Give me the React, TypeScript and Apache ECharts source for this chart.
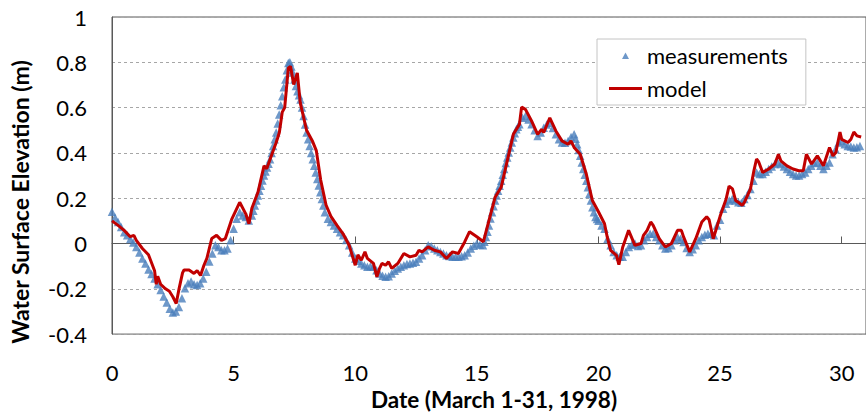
import React, { useEffect, useRef } from "react";
import * as echarts from "echarts";

// Day of March 1998 (0 = start of March 1) for the measured water level
const measDay = [
  0, 0.125, 0.25, 0.375, 0.5, 0.625, 0.75, 0.875, 1, 1.125, 1.25, 1.375, 1.5, 1.625, 1.75, 1.875,
  2, 2.125, 2.25, 2.375, 2.5, 2.625, 2.75, 2.875, 3, 3.125, 3.25, 3.375, 3.5, 3.625, 3.75, 3.875,
  4, 4.125, 4.25, 4.375, 4.5, 4.625, 4.75, 4.875, 5, 5.125, 5.25, 5.375, 5.5, 5.625, 5.75, 5.8125, 5.875, 5.9375,
  6, 6.0625, 6.125, 6.1875, 6.25, 6.3125, 6.375, 6.4375, 6.5, 6.5625, 6.625, 6.6875, 6.75, 6.8125, 6.875, 6.9375,
  7, 7.0625, 7.125, 7.1875, 7.25, 7.3125, 7.375, 7.4375, 7.5, 7.5625, 7.625, 7.6875, 7.75, 7.8125, 7.875, 7.9375,
  8, 8.0625, 8.125, 8.1875, 8.25, 8.3125, 8.375, 8.4375, 8.5, 8.5625, 8.625, 8.6875, 8.75, 8.875,
  9, 9.125, 9.25, 9.375, 9.5, 9.625, 9.75, 9.875,
  10, 10.125, 10.25, 10.375, 10.5, 10.625, 10.75, 10.875, 11, 11.125, 11.25, 11.375, 11.5, 11.625, 11.75, 11.875,
  12, 12.125, 12.25, 12.375, 12.5, 12.625, 12.75, 12.875, 13, 13.125, 13.25, 13.375, 13.5, 13.625, 13.75, 13.875,
  14, 14.125, 14.25, 14.375, 14.5, 14.625, 14.75, 14.875, 15, 15.125, 15.25, 15.3125, 15.375, 15.4375,
  15.5, 15.5625, 15.625, 15.6875, 15.75, 15.8125, 15.875, 15.9375, 16, 16.0625, 16.125, 16.1875, 16.25, 16.3125,
  16.375, 16.4375, 16.5, 16.5625, 16.625, 16.6875, 16.75, 16.875, 17, 17.125, 17.25, 17.375, 17.5, 17.625,
  17.75, 17.875, 18, 18.125, 18.25, 18.375, 18.5, 18.625, 18.75, 18.875, 19, 19.0625, 19.125, 19.1875,
  19.25, 19.3125, 19.375, 19.4375, 19.5, 19.5625, 19.625, 19.6875, 19.75, 19.8125, 19.875, 19.9375,
  20, 20.125, 20.25, 20.375, 20.5, 20.625, 20.75, 20.875, 21, 21.125, 21.25, 21.375, 21.5, 21.625, 21.75, 21.875,
  22, 22.125, 22.25, 22.375, 22.5, 22.625, 22.75, 22.875, 23, 23.125, 23.25, 23.375, 23.5, 23.625, 23.75, 23.875,
  24, 24.125, 24.25, 24.375, 24.5, 24.625, 24.75, 24.875, 25, 25.125, 25.25, 25.375, 25.5, 25.625, 25.75, 25.875,
  26, 26.125, 26.25, 26.375, 26.5, 26.625, 26.75, 26.875, 27, 27.125, 27.25, 27.375, 27.5, 27.625, 27.75, 27.875,
  28, 28.125, 28.25, 28.375, 28.5, 28.625, 28.75, 28.875, 29, 29.125, 29.25, 29.375, 29.5, 29.625, 29.75, 29.875,
  30, 30.125, 30.25, 30.375, 30.5, 30.625, 30.75,
];
// Measured water surface elevation (m)
const measElev = [
  0.14, 0.115, 0.095, 0.073, 0.05, 0.036, 0.02, 0.004, -0.015, -0.04, -0.066, -0.088, -0.115, -0.135, -0.155, -0.18,
  -0.205, -0.234, -0.26, -0.288, -0.305, -0.3, -0.28, -0.242, -0.198, -0.176, -0.168, -0.18, -0.183, -0.176, -0.154, -0.125,
  -0.08, -0.044, -0.008, -0.015, -0.03, -0.03, -0.022, 0.014, 0.065, 0.109, 0.138, 0.124, 0.117, 0.102, 0.124, 0.145, 0.168, 0.19,
  0.212, 0.233, 0.255, 0.278, 0.3, 0.318, 0.336, 0.352, 0.372, 0.4, 0.431, 0.46, 0.49, 0.53, 0.57, 0.61,
  0.65, 0.69, 0.724, 0.765, 0.797, 0.8, 0.782, 0.755, 0.724, 0.695, 0.672, 0.655, 0.636, 0.6, 0.563, 0.525,
  0.49, 0.46, 0.431, 0.4, 0.372, 0.343, 0.314, 0.285, 0.256, 0.226, 0.197, 0.168, 0.138, 0.109,
  0.095, 0.08, 0.065, 0.05, 0.036, 0.015, -0.008, -0.04,
  -0.066, -0.076, -0.088, -0.096, -0.103, -0.1, -0.103, -0.118, -0.132, -0.142, -0.147, -0.145, -0.132, -0.12, -0.11, -0.103,
  -0.096, -0.091, -0.088, -0.085, -0.081, -0.066, -0.052, -0.03, -0.008, -0.012, -0.022, -0.03, -0.037, -0.044, -0.052, -0.055,
  -0.059, -0.059, -0.059, -0.056, -0.052, -0.04, -0.022, -0.01, 0, -0.005, -0.008, 0.008, 0.029, 0.052,
  0.08, 0.11, 0.138, 0.165, 0.19, 0.212, 0.233, 0.255, 0.277, 0.303, 0.329, 0.355, 0.38, 0.402,
  0.424, 0.446, 0.468, 0.487, 0.504, 0.516, 0.526, 0.555, 0.563, 0.548, 0.526, 0.5, 0.475, 0.49,
  0.511, 0.525, 0.533, 0.51, 0.482, 0.46, 0.446, 0.445, 0.453, 0.47, 0.482, 0.462, 0.438, 0.413,
  0.387, 0.358, 0.329, 0.303, 0.277, 0.248, 0.219, 0.19, 0.16, 0.138, 0.117, 0.108,
  0.1, 0.08, 0.065, 0.021, -0.008, -0.037, -0.052, -0.059, -0.059, -0.037, -0.015, -0.005, 0, -0.011, -0.008, 0.014,
  0.029, 0.043, 0.043, 0.029, 0.014, -0.008, -0.022, -0.02, -0.008, 0.014, 0.029, 0.021, 0.007, -0.02, -0.037, -0.025,
  -0.008, 0.014, 0.029, 0.039, 0.043, 0.043, 0.036, 0.08, 0.105, 0.153, 0.175, 0.19, 0.197, 0.19, 0.182, 0.18,
  0.197, 0.214, 0.241, 0.277, 0.314, 0.307, 0.307, 0.317, 0.329, 0.34, 0.351, 0.358, 0.351, 0.34, 0.329, 0.317,
  0.307, 0.3, 0.3, 0.307, 0.314, 0.329, 0.343, 0.355, 0.358, 0.343, 0.329, 0.343, 0.358, 0.394, 0.416, 0.446,
  0.453, 0.438, 0.431, 0.428, 0.424, 0.425, 0.43,
];

// Model output
const modelDay = [
  0, 0.25, 0.5, 0.75, 0.9, 1, 1.25, 1.5, 1.75, 1.82, 1.88, 2, 2.2, 2.36, 2.5, 2.64, 2.76, 2.9, 2.96,
  3.17, 3.37, 3.5, 3.64, 3.78, 3.9, 4.1, 4.3, 4.5, 4.66, 4.93, 5.25, 5.5, 5.63, 5.75, 6, 6.25, 6.36,
  6.5, 6.75, 6.88, 7, 7.1, 7.25, 7.34, 7.47, 7.62, 7.74, 8, 8.25, 8.4, 8.58, 8.8, 9, 9.25, 9.5, 9.75,
  10, 10.11, 10.25, 10.4, 10.5, 10.75, 10.89, 11, 11.1, 11.25, 11.37, 11.5, 11.75, 12, 12.25, 12.5,
  12.62, 12.75, 13, 13.25, 13.5, 13.75, 14, 14.24, 14.5, 14.7, 15, 15.27, 15.5, 15.75, 16, 16.25,
  16.5, 16.75, 16.84, 17, 17.25, 17.5, 17.66, 17.75, 18, 18.25, 18.5, 18.75, 18.87, 19, 19.25, 19.5,
  19.75, 20, 20.25, 20.36, 20.5, 20.74, 20.84, 21, 21.24, 21.5, 21.75, 21.85, 22, 22.15, 22.25, 22.5,
  22.75, 23, 23.25, 23.41, 23.5, 23.75, 24, 24.25, 24.45, 24.55, 24.72, 25, 25.25, 25.37, 25.51, 25.64,
  25.75, 25.91, 26, 26.25, 26.39, 26.5, 26.59, 26.75, 27, 27.25, 27.4, 27.5, 27.75, 28, 28.24, 28.42,
  28.55, 28.76, 29, 29.25, 29.5, 29.64, 29.76, 29.93, 30, 30.26, 30.38, 30.5, 30.63, 30.8,
];
const modelElev = [
  0.1, 0.08, 0.058, 0.03, 0.036, 0.014, -0.022, -0.05, -0.12, -0.18, -0.145, -0.18, -0.2, -0.211, -0.235, -0.265, -0.198, -0.13, -0.117,
  -0.117, -0.132, -0.12, -0.141, -0.096, -0.066, 0.022, 0.036, 0.014, 0.022, 0.109, 0.182, 0.131, 0.087, 0.156, 0.226, 0.343, 0.33,
  0.372, 0.446, 0.49, 0.58, 0.6, 0.775, 0.782, 0.702, 0.753, 0.621, 0.5, 0.45, 0.41, 0.28, 0.17, 0.12, 0.08, 0.043, -0.008,
  -0.096, -0.05, -0.074, -0.037, -0.066, -0.088, -0.147, -0.11, -0.088, -0.096, -0.081, -0.11, -0.088, -0.044, -0.059, -0.052,
  -0.03, -0.037, -0.015, -0.03, -0.037, -0.066, -0.037, -0.044, 0.007, 0.052, 0.03, 0.008, 0.102, 0.204, 0.248, 0.365,
  0.482, 0.526, 0.602, 0.592, 0.541, 0.482, 0.504, 0.49, 0.555, 0.497, 0.453, 0.438, 0.453, 0.424, 0.394, 0.307,
  0.19, 0.14, 0.087, 0.029, -0.03, -0.052, -0.093, -0.015, 0.058, -0.008, 0, 0.036, 0.058, 0.095, 0.08, 0.021,
  -0.015, 0, 0.058, 0.058, 0.029, -0.037, 0.021, 0.095, 0.118, 0.105, 0.021, 0.12, 0.197, 0.253, 0.241, 0.19,
  0.182, 0.168, 0.182, 0.241, 0.321, 0.373, 0.36, 0.314, 0.329, 0.351, 0.394, 0.365, 0.343, 0.329, 0.321, 0.321,
  0.394, 0.351, 0.387, 0.343, 0.424, 0.387, 0.402, 0.492, 0.46, 0.446, 0.46, 0.492, 0.475, 0.47,
];

const xTitle = "Date (March 1-31, 1998)";
const yTitle = "Water Surface Elevation (m)";
const seriesNames = ["measurements", "model"];

const FONT = "Lato, 'Open Sans', sans-serif";
const FS = 22;

export default function App() {
  const ref = useRef<HTMLDivElement>(null);

  useEffect(() => {
    if (!ref.current) return;
    const chart = echarts.init(ref.current, undefined, { renderer: "svg" });
    const measData = measDay.map((d, i) => [d, measElev[i]]);
    const modelData = modelDay.map((d, i) => [d, modelElev[i]]);
    chart.setOption({
      animation: false,
      backgroundColor: "#ffffff",
      textStyle: { fontFamily: FONT },
      grid: {
        left: 112,
        top: 17,
        right: -9,
        bottom: 80,
        show: true,
        borderColor: "#595959",
        borderWidth: 1,
        backgroundColor: "transparent",
      },
      legend: {
        orient: "vertical",
        left: 597,
        top: 39,
        itemWidth: 33,
        itemHeight: 7,
        itemGap: 11,
        padding: [5.5, 18, 5.5, 12],
        backgroundColor: "#ffffff",
        borderColor: "#c4c4c4",
        borderWidth: 1,
        textStyle: { fontFamily: FONT, fontSize: FS, color: "#000000" },
        data: [
          {
            name: seriesNames[0],
            icon: "path://M0,0L0,0M33,7L33,7M16.5,0.5L20,7L13,7Z",
          },
          {
            name: seriesNames[1],
            icon: "path://M0,0L0,0M33,7L33,7M0,2L33,2L33,5L0,5Z",
          },
        ],
      },
      xAxis: {
        type: "value",
        min: 0,
        max: 31,
        interval: 5,
        name: xTitle,
        nameLocation: "middle",
        nameGap: 51,
        nameTextStyle: {
          fontFamily: FONT,
          fontSize: FS + 0.5,
          fontWeight: "bold",
          color: "#000000",
          padding: [0, 0, 0, 10],
        },
        axisLine: { show: true, lineStyle: { color: "#595959", width: 1 } },
        axisTick: { show: true, inside: true, length: 7, lineStyle: { color: "#595959" } },
        axisLabel: {
          fontFamily: FONT,
          fontSize: FS,
          color: "#000000",
          margin: 27,
          showMaxLabel: false,
        },
        splitLine: { show: false },
      },
      yAxis: {
        type: "value",
        min: -0.4,
        max: 1,
        interval: 0.2,
        axisLine: { show: true, lineStyle: { color: "#595959", width: 1 } },
        axisTick: { show: false },
        axisLabel: {
          fontFamily: FONT,
          fontSize: FS,
          color: "#000000",
          margin: 25,
          formatter: (v: number) => String(Math.round(v * 10) / 10),
        },
        splitLine: {
          show: true,
          lineStyle: { color: "#a6a6a6", width: 1, type: [3, 3] },
        },
      },
      graphic: [
        {
          type: "text",
          x: 20,
          y: 202,
          rotation: Math.PI / 2,
          style: {
            text: yTitle,
            font: `bold ${FS + 1}px ${FONT}`,
            fill: "#000000",
            textAlign: "center",
            textVerticalAlign: "middle",
          },
        },
      ],
      series: [
        {
          name: seriesNames[0],
          type: "scatter",
          data: measData,
          symbol: "triangle",
          symbolSize: 8.5,
          itemStyle: { color: "#4a7ebb" },
          z: 2,
          clip: true,
        },
        {
          name: seriesNames[1],
          type: "line",
          data: modelData,
          showSymbol: false,
          symbol: "none",
          lineStyle: { color: "#c00000", width: 3 },
          itemStyle: { color: "#c00000" },
          z: 3,
          clip: true,
        },
      ],
    });
    return () => chart.dispose();
  }, []);

  return (
    <div
      ref={ref}
      style={{ position: "absolute", left: 0, top: 0, width: 866, height: 416 }}
    />
  );
}
